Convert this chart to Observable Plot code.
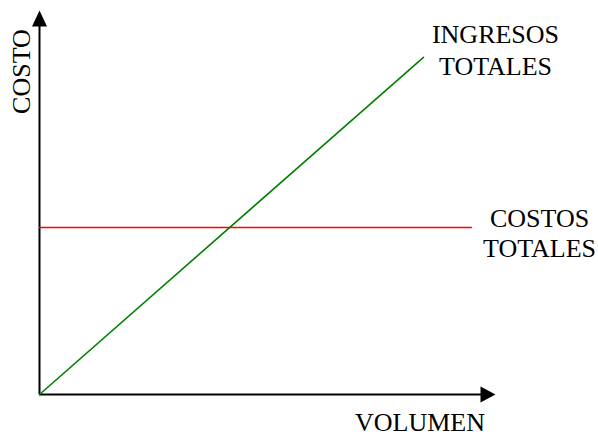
<!DOCTYPE html>
<html>
<head>
<meta charset="utf-8">
<script src="https://cdn.jsdelivr.net/npm/d3@7"></script>
<script src="https://cdn.jsdelivr.net/npm/@observablehq/plot@0.6"></script>
<style>
  html, body { margin: 0; padding: 0; background: #fff; }
  svg { display: block; }
</style>
</head>
<body>
<div id="chart"></div>
<script>
// Data (arbitrary units: volume on x, cost on y)
const volumen = [0, 84.2];
const ingresosTotales = [0, 87.8];
const volumenCostos = [0, 94.7];
const costosTotales = [43.5, 43.5];
const labelIngresos = ["INGRESOS", "TOTALES"];
const labelCostos = ["COSTOS", "TOTALES"];
const xLabel = "VOLUMEN";
const yLabel = "COSTO";

const ingresos = volumen.map((v, i) => ({x: v, y: ingresosTotales[i]}));
const costos = volumenCostos.map((v, i) => ({x: v, y: costosTotales[i]}));

const arrowHead = {
  draw(context, l, r) {
    context.moveTo(0, -l);
    context.lineTo(-r, 0);
    context.lineTo(r, 0);
    context.closePath();
  }
};

const font = {fontFamily: "'Liberation Serif', 'Times New Roman', serif", fontSize: 26, fill: "black", lineAnchor: "bottom"};

const chart = Plot.plot({
  width: 598,
  height: 437,
  margin: 0,
  x: {domain: [0, 100], range: [39, 495], axis: null},
  y: {domain: [0, 100], range: [394, 10], axis: null},
  marks: [
    // axes
    Plot.ruleX([0], {y1: 0, y2: 97, stroke: "black", strokeWidth: 2}),
    Plot.ruleY([0], {x1: 0, x2: 97, stroke: "black", strokeWidth: 2}),
    Plot.vector([{x: 0, y: 100}], {x: "x", y: "y", shape: arrowHead, length: 16, r: 7.5, anchor: "end", fill: "black", stroke: "none"}),
    Plot.vector([{x: 100, y: 0}], {x: "x", y: "y", shape: arrowHead, length: 15, r: 8, anchor: "end", rotate: 90, fill: "black", stroke: "none"}),
    // series
    Plot.line(costos, {x: "x", y: "y", stroke: "#ff0000", strokeWidth: 1.6}),
    Plot.line(ingresos, {x: "x", y: "y", stroke: "#008000", strokeWidth: 1.6}),
    // labels
    Plot.text([labelIngresos[0]], {x: 100, y: 91.41, ...font}),
    Plot.text([labelIngresos[1]], {x: 100, y: 83.33, ...font}),
    Plot.text([labelCostos[0]], {x: 109.65, y: 43.75, ...font}),
    Plot.text([labelCostos[1]], {x: 109.65, y: 35.68, ...font}),
    Plot.text([xLabel], {x: 83.44, y: -9.6, ...font}),
    Plot.text([yLabel], {x: -2.19, y: 84.11, rotate: -90, ...font})
  ]
});
document.getElementById("chart").append(chart);
</script>
</body>
</html>
